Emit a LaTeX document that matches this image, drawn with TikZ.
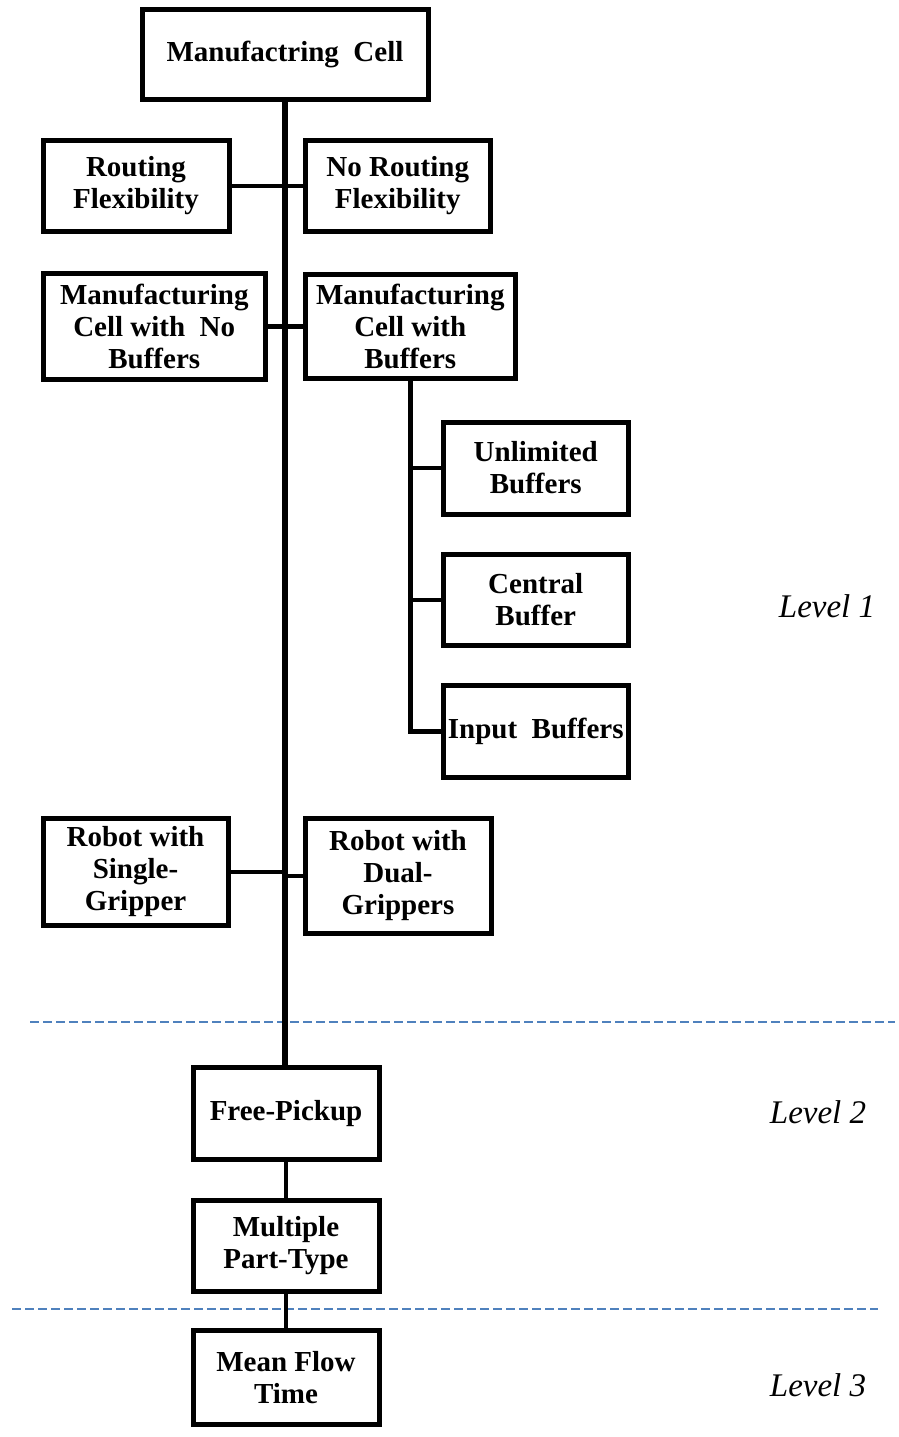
\documentclass[tikz,border=0pt]{standalone}
\usepackage{fontspec}
\setmainfont{Liberation Serif}
\definecolor{levelline}{RGB}{79,129,189}
\tikzset{
  cellbox/.style={draw=black, line width=5pt, fill=white, inner sep=0pt,
    align=center, font=\bfseries\fontsize{29}{32}\selectfont},
  trunk/.style={draw=black, line width=5.5pt},
  branch/.style={draw=black, line width=4.5pt},
  levelsep/.style={draw=levelline, line width=1.8pt, dash pattern=on 8.5pt off 4.5pt},
  levellabel/.style={font=\itshape\fontsize{33}{36}\selectfont, inner sep=0pt}
}
\begin{document}
\begin{tikzpicture}[x=1pt, y=-1pt]
  \useasboundingbox[fill=white] (0,0) rectangle (898,1437);

  % level separators
  \coordinate (s1a) at (30,1022);
  \coordinate (s1b) at (895,1022);
  \coordinate (s2a) at (12,1309);
  \coordinate (s2b) at (878,1309);
  \draw[levelsep] (s1a) -- (s1b);
  \draw[levelsep] (s2a) -- (s2b);

  % boxes
  \node[cellbox, minimum width=286pt, minimum height=90pt] (mc) at (285,54.5) {Manufactring\ \ Cell};
  \node[cellbox, minimum width=186pt, minimum height=91pt] (rf) at (136,186) {Routing\\Flexibility};
  \node[cellbox, minimum width=185.5pt, minimum height=91pt] (nrf) at (397.75,186) {No Routing\\Flexibility};
  \node[cellbox, minimum width=222.5pt, minimum height=106.5pt] (mcn) at (154.25,326.25) {Manufacturing\\Cell with\ \ No\\Buffers};
  \node[cellbox, minimum width=210.5pt, minimum height=104pt] (mcb) at (410.25,326.5) {Manufacturing\\Cell with\\Buffers};
  \node[cellbox, minimum width=185.5pt, minimum height=92pt] (ub) at (535.75,468) {Unlimited\\Buffers};
  \node[cellbox, minimum width=185.5pt, minimum height=91.5pt] (cb) at (535.75,599.75) {Central\\Buffer};
  \node[cellbox, minimum width=185.5pt, minimum height=92pt] (ib) at (535.75,731.5) {Input\ \ Buffers};
  \node[cellbox, minimum width=185pt, minimum height=107pt] (rsg) at (135.5,872) {Robot with\\Single-\\Gripper};
  \node[cellbox, minimum width=186pt, minimum height=115pt] (rdg) at (398,876) {Robot with\\Dual-\\Grippers};
  \node[cellbox, minimum width=186pt, minimum height=92pt] (fp) at (286,1113.5) {Free-Pickup};
  \node[cellbox, minimum width=186pt, minimum height=91.5pt] (mpt) at (286,1245.75) {Multiple\\Part-Type};
  \node[cellbox, minimum width=186pt, minimum height=93.5pt] (mft) at (286,1377.25) {Mean Flow\\Time};

  % main trunk and side branches
  \draw[trunk] (mc.south) -- (mc.south |- fp.north);
  \draw[branch] (rf.east) -- (rf.east -| mc.south);
  \draw[branch] (nrf.west) -- (nrf.west -| mc.south);
  \draw[branch] (mcn.east) -- (mcn.east -| mc.south);
  \draw[branch] (mcb.west) -- (mcb.west -| mc.south);
  \draw[branch] (rsg.east) -- (rsg.east -| mc.south);
  \draw[branch] (rdg.west) -- (rdg.west -| mc.south);

  % buffer sub-tree
  \draw[branch, line join=miter] (mcb.south) |- (ib.west);
  \draw[branch] (ub.west) -- (ub.west -| mcb.south);
  \draw[branch] (cb.west) -- (cb.west -| mcb.south);

  % lower chain
  \draw[branch] (fp.south) -- (mpt.north);
  \draw[branch] (mpt.south) -- (mft.north);

  % level labels
  \node[levellabel] (l1) at (827,606) {Level 1};
  \node[levellabel] (l2) at (818,1112) {Level 2};
  \node[levellabel] (l3) at (818,1385) {Level 3};
\end{tikzpicture}
\end{document}
